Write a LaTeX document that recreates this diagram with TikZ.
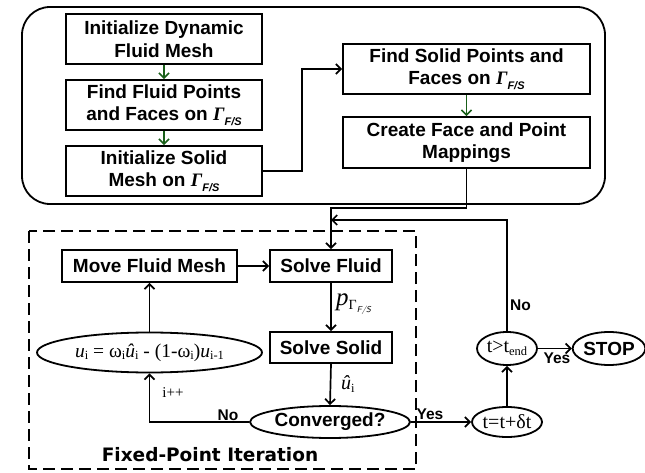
\documentclass[tikz,border=0pt]{standalone}
\usepackage{fontspec}
\setmainfont{Liberation Sans}
\newfontfamily\serif{Liberation Serif}
\newfontfamily\dejab{DejaVu Sans}
\usetikzlibrary{shapes.geometric,arrows.meta}
\definecolor{darkgr}{RGB}{25,95,25}
\newcommand\GFS{{\serif\itshape Γ}\raisebox{-0.45ex}{\fontsize{11}{11}\selectfont\bfseries\itshape F/S}}
\newcommand\sbs[1]{\raisebox{-0.3ex}{\fontsize{12.5}{12.5}\selectfont #1}}
\begin{document}
\begin{tikzpicture}[x=1pt,y=-1pt,
  box/.style={draw,line width=1.8pt,minimum width=196pt,minimum height=50pt,inner sep=0pt,align=center,font=\fontsize{19}{22.5}\selectfont\bfseries},
  sbox/.style={draw,line width=1.8pt,inner sep=0pt,align=center,font=\fontsize{19}{22.5}\selectfont\bfseries},
  ell/.style={draw,ellipse,line width=1.8pt,inner sep=0pt},
  conn/.style={line width=1.7pt,-{Straight Barb[length=5pt,width=10pt,line width=1.7pt]}},
  gconn/.style={line width=1.6pt,darkgr,-{Straight Barb[length=5pt,width=10pt,line width=1.6pt]}},
  lab/.style={font=\fontsize{15.5}{16}\selectfont\bfseries,inner sep=0pt}]
\useasboundingbox (0,0) rectangle (645,473);
% outer rounded frame
\draw[line width=1.8pt,rounded corners=28pt] (22,7) rectangle (605,204);
% dashed frame
\draw[line width=2.8pt,dash pattern=on 12pt off 6pt] (29,231) rectangle (416,469);
% setup boxes
\node[box] (b1) at (164,39) {Initialize Dynamic\\Fluid Mesh};
\node[box] (b2) at (164,105) {Find Fluid Points\\and Faces on \GFS};
\node[box] (b3) at (164,171) {Initialize Solid\\Mesh on \GFS};
\node[box,minimum width=247pt] (b4) at (466.5,69) {Find Solid Points and\\Faces on \GFS};
\node[box,minimum width=247pt,minimum height=51pt] (b5) at (466.5,142.5) {Create Face and Point\\Mappings};
% iteration
\node[sbox,minimum width=175pt,minimum height=32pt] (mfm) at (149.5,266) {Move Fluid Mesh};
\node[sbox,minimum width=122pt,minimum height=32pt] (sf) at (331,266) {Solve Fluid};
\node[sbox,minimum width=122pt,minimum height=31pt] (ss) at (331,347.5) {Solve Solid};
\node[ell,minimum width=225pt,minimum height=40pt,font=\serif\fontsize{19.5}{19.5}\selectfont] (eq) at (149.5,352.5)
  {\textit{u}\sbs{i} = ω\sbs{i}\textit{û}\sbs{i} - (1-ω\sbs{i})\textit{u}\sbs{i-1}};
\node[ell,minimum width=160pt,minimum height=32pt,font=\fontsize{19}{19}\selectfont\bfseries] (conv) at (330,422) {Converged?};
\node[ell,minimum width=70pt,minimum height=30pt,font=\serif\fontsize{20}{20}\selectfont] (tdt) at (507,422) {t=t+δt};
\node[ell,minimum width=60pt,minimum height=33pt,font=\serif\fontsize{20}{20}\selectfont] (tend) at (507,348.5) {t>t\sbs{end}};
\node[ell,minimum width=70pt,minimum height=33pt,font=\fontsize{19}{19}\selectfont\bfseries] (stop) at (609,348.5) {STOP};
% coordinates
\coordinate (j1) at (331,208);
\coordinate (j2) at (331,220);
\coordinate (k1) at (302,171);
% connectors
\draw[gconn] (b1.south) -- (b2.north);
\draw[gconn] (b2.south) -- (b3.north);
\draw[gconn] (b4.south) -- (b5.north);
\draw[conn] (b3.east) -- (k1) |- (b4.west);
\draw[conn] (b5.south) |- (j1) -- (sf.north);
\draw[conn] (tend.north) |- (j2);
\draw[conn] (mfm.east) -- (sf.west);
\draw[conn] (sf.south) -- (ss.north);
\draw[conn] (ss.south) -- (conv.north);
\draw[conn] (conv.west) -| (eq.south);
\draw[conn] (eq.north) -- (mfm.south);
\draw[conn] (conv.east) -- (tdt.west);
\draw[conn] (tdt.north) -- (tend.south);
\draw[conn] (tend.east) -- (stop.west);
% labels
\node[lab,anchor=west] (lno1) at (510,305) {No};
\node[lab] (lno2) at (228,415) {No};
\node[inner sep=0pt,font=\serif\fontsize{15}{15}\selectfont] (lipp) at (173,393) {i++};
\node[lab] (lyes1) at (430,414) {Yes};
\node[lab] (lyes2) at (557,358) {Yes};
\node[inner sep=0pt,anchor=west,font=\serif\fontsize{25}{25}\selectfont] (lp) at (336,304)
  {\textit{p}\raisebox{-0.35ex}{\fontsize{14}{14}\selectfont Γ\raisebox{-0.4ex}{\fontsize{8.5}{8.5}\selectfont\sffamily\itshape F/S}}};
\node[inner sep=0pt,anchor=west,font=\serif\fontsize{20}{20}\selectfont] (lu) at (341,384) {\textit{û}\sbs{i}};
\node[inner sep=0pt,font=\dejab\bfseries\fontsize{18.5}{19}\selectfont] (fpi) at (210,455) {Fixed-Point Iteration};
\end{tikzpicture}
\end{document}
